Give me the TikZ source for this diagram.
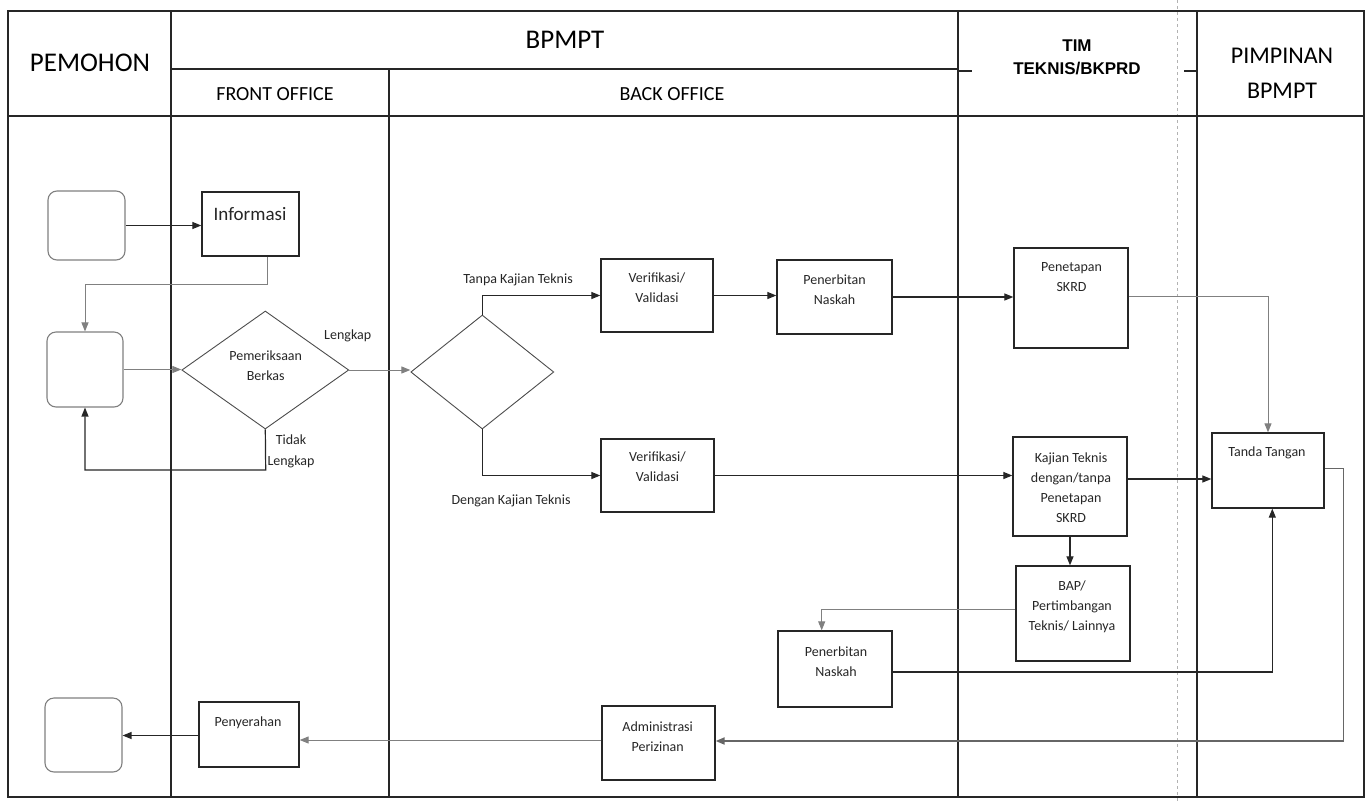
\documentclass[tikz,border=0pt]{standalone}
\usepackage{fontspec}
\setmainfont{Carlito}
\newfontfamily\arialfont{Liberation Sans}
\usetikzlibrary{arrows.meta,shapes.geometric}
\begin{document}
\begin{tikzpicture}[x=1pt,y=-1pt,
  frame/.style={line width=1.3pt, draw=black!85},
  box/.style={draw=black!85, line width=1.3pt, inner sep=0pt},
  rbox/.style={draw=black!50, line width=1.1pt, rounded corners=9pt, inner sep=0pt},
  dia/.style={draw=black!70, line width=0.9pt, diamond, inner sep=0pt},
  txt/.style={font=\fontsize{14}{20}\selectfont, align=center, inner sep=0pt, text=black!85},
  lbl/.style={font=\fontsize{14}{21}\selectfont, align=center, inner sep=0pt, text=black!85},
  hdr/.style={font=\fontsize{27}{34}\selectfont, align=center, inner sep=0pt},
  sub/.style={font=\fontsize{20}{24}\selectfont, inner sep=0pt},
  tip/.style={-{Triangle[length=9pt,width=7pt]}},
  conn/.style={line width=1.2pt, draw=black!85, tip},
  faint/.style={line width=1pt, draw=black!50, tip},
  retn/.style={line width=1.9pt, draw=black!60, tip},
]
\useasboundingbox (0,0) rectangle (1369,801);

% ---------- swimlane frame ----------
\draw[black!30, line width=0.6pt, dashed] (1177.5,0) -- (1177.5,801);
\draw[frame] (8,11) rectangle (1364,797);
\draw[frame] (171,11) -- (171,797);
\draw[frame] (958,11) -- (958,797);
\draw[frame] (1197,11) -- (1197,797);
\draw[frame] (389,69) -- (389,797);
\draw[frame] (171,69) -- (958,69);
\draw[frame] (8,116) -- (1364,116);
\draw[frame] (958,71) -- (972,71);
\draw[frame] (1184,71) -- (1197,71);

% ---------- headers ----------
\node[hdr] (hpem) at (90,63) {PEMOHON};
\node[hdr] (hbp) at (565,40) {BPMPT};
\node[sub] (hfo) at (275,94.5) {FRONT OFFICE};
\node[sub] (hbo) at (672,94.5) {BACK OFFICE};
\node[font=\arialfont\bfseries\fontsize{17}{23}\selectfont, align=center, inner sep=0pt] (htim) at (1077,57) {TIM\\TEKNIS/BKPRD};
\node[font=\fontsize{24}{35}\selectfont, align=center, inner sep=0pt] (hpim) at (1282,73) {PIMPINAN\\BPMPT};

% ---------- nodes ----------
\node[rbox, minimum width=77pt, minimum height=69pt] (pem1) at (86.5,225.5) {};
\node[box, minimum width=97pt, minimum height=64pt] (info) at (250.5,224) {};
\node[font=\fontsize{19}{22}\selectfont, inner sep=0pt, text=black!85] (tinfo) at (250,214) {Informasi};
\node[rbox, minimum width=76pt, minimum height=75pt] (pem2) at (85,369.5) {};
\node[dia, minimum width=167pt, minimum height=118pt] (dia1) at (265.3,370) {};
\node[txt] (tdia1) at (265.7,366) {Pemeriksaan\\Berkas};
\node[dia, minimum width=143pt, minimum height=114pt] (dia2) at (482.3,372) {};

\node[box, minimum width=112pt, minimum height=73pt] (v1) at (657,295.5) {};
\node[txt] (tv1) at (657,288) {Verifikasi/\\Validasi};
\node[box, minimum width=115pt, minimum height=74pt] (pn1) at (834.5,297) {};
\node[txt] (tpn1) at (834.5,290) {Penerbitan\\Naskah};
\node[box, minimum width=114pt, minimum height=100pt] (skrd) at (1071,298) {};
\node[txt] (tskrd) at (1071.5,277.5) {Penetapan\\SKRD};

\node[box, minimum width=113pt, minimum height=73pt] (v2) at (657.5,475.5) {};
\node[txt] (tv2) at (657.5,467) {Verifikasi/\\Validasi};
\node[box, minimum width=114pt, minimum height=99pt] (kaj) at (1070,486.5) {};
\node[txt] (tkaj) at (1071,488) {Kajian Teknis\\dengan/tanpa\\Penetapan\\SKRD};
\node[box, minimum width=112pt, minimum height=75pt] (tt) at (1268,470.5) {};
\node[txt] (ttt) at (1267,453) {Tanda Tangan};
\node[box, minimum width=114pt, minimum height=95pt] (bap) at (1073,613.5) {};
\node[txt] (tbap) at (1072,607) {BAP/\\Pertimbangan\\Teknis/ Lainnya};
\node[box, minimum width=114pt, minimum height=76pt] (pn2) at (835,669) {};
\node[txt] (tpn2) at (836,661.7) {Penerbitan\\Naskah};

\node[box, minimum width=113pt, minimum height=74pt] (adm) at (658.5,743) {};
\node[txt] (tadm) at (657.7,736.3) {Administrasi\\Perizinan};
\node[box, minimum width=100pt, minimum height=65pt] (pny) at (249,734.5) {};
\node[txt] (tpny) at (248,722.7) {Penyerahan};
\node[rbox, minimum width=77pt, minimum height=74pt] (end) at (83.5,735) {};

% ---------- labels ----------
\node[lbl] (llk) at (347.7,335.7) {Lengkap};
\node[lbl] (ltl) at (291,451.5) {Tidak\\Lengkap};
\node[lbl] (ltk) at (518,280) {Tanpa Kajian Teknis};
\node[lbl] (ldk) at (511,500.7) {Dengan Kajian Teknis};

% ---------- connectors ----------
\coordinate (k1) at (267,284);
\coordinate (k2) at (265.7,470);
\coordinate (k3) at (821.7,609.5);
\coordinate (k4) at (1272.3,672);
\coordinate (r1) at (1343.5,741);

\draw[conn] (pem1.east) -- (pem1.east -| info.west);
\draw[faint] (info.south -| k1) |- (pem2.north |- k1) -- (pem2.north);
\draw[faint] (pem2.east) -- (pem2.east -| dia1.west);
\draw[conn] (dia1.south) -- (k2) -- (k2 -| pem2.south) -- (pem2.south);
\draw[faint] (dia1.east) -- (dia1.east -| dia2.west);
\draw[conn] (dia2.north) |- (v1.west);
\draw[conn] (dia2.south) |- (v2.west);
\draw[conn] (v1.east) -- (v1.east -| pn1.west);
\draw[conn] (pn1.east) -- (pn1.east -| skrd.west);
\draw[faint] ([yshift=2pt]skrd.east) -| (tt.north);
\draw[conn] (v2.east) -- (v2.east -| kaj.west);
\draw[conn] ([yshift=7.5pt]kaj.east) -- ([yshift=7.5pt]kaj.east -| tt.west);
\draw[conn] (kaj.south) -- (kaj.south |- bap.north);
\draw[faint] (bap.west |- k3) -- (k3) -- (k3 |- pn2.north);
\draw[conn] (pn2.east |- k4) -- (k4) -- (k4 |- tt.south);
\draw[retn] ([yshift=2pt]tt.east) -| (r1) -- (r1 -| adm.east);
\draw[faint] ([yshift=3pt]adm.west) -- ([yshift=3pt]adm.west -| pny.east);
\draw[conn] ([yshift=-1pt]pny.west) -- ([yshift=-1pt]pny.west -| end.east);
\end{tikzpicture}
\end{document}
